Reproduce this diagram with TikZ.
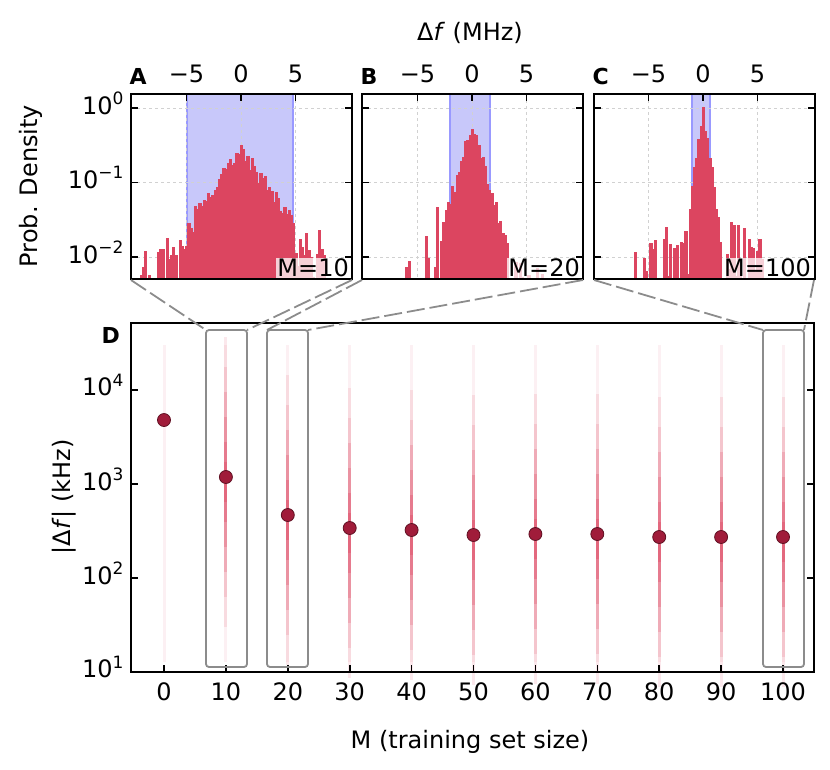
\documentclass[tikz,border=0pt]{standalone}
\usepackage{fontspec}
\setmainfont{DejaVu Sans}
\usetikzlibrary{calc}
\definecolor{barred}{HTML}{DC4560}
\definecolor{dotred}{HTML}{A01C3A}
\definecolor{bandblue}{HTML}{C8C8FA}
\tikzset{
  frame/.style={draw=black, line width=1.6pt},
  bar/.style={fill=barred, draw=barred, line width=0.2pt},
  band/.style={fill=bandblue, draw=blue!40, line width=1.2pt},
  grid/.style={draw=black!18, dashed, line width=0.8pt},
  zoombox/.style={draw=black!45, line width=1.8pt, rounded corners=3pt},
  zoomline/.style={draw=black!45, line width=1.8pt, dash pattern=on 18pt off 5pt},
  tick/.style={line width=1.6pt},
  lab/.style={font=\fontsize{24}{28}\selectfont},
  letter/.style={font=\fontsize{22}{26}\selectfont\bfseries},
  meandot/.style={circle, fill=dotred, draw=dotred!60!black, line width=0.8pt, minimum size=13pt, inner sep=0pt},
  mlabel/.style={font=\fontsize{24}{28}\selectfont, fill=white, fill opacity=0.75, text opacity=1, inner sep=1pt, anchor=south east},
}
\newcommand\lgt[1]{10\raisebox{0.75ex}{\fontsize{17}{18}\selectfont #1}}
% histogram bars: origin x, peak log, slope, list, noise
\newcommand\hbars[5]{%
  \foreach \u in {#4}{%
    \pgfmathsetmacro\lp{#2-#3*abs(\u)+#5*rand}
    \pgfmathsetmacro\yy{max(96,108-74.5*\lp)}
    \pgfmathparse{\yy<279?1:0}
    \ifnum\pgfmathresult=1 \fill[bar] (#1+10.9*\u-1.1,279) rectangle (#1+10.9*\u+1.1,\yy);\fi}}
\begin{document}
\begin{tikzpicture}[x=1pt,y=-1pt]
  \useasboundingbox (0,0) rectangle (830,769);
  \pgfmathsetseed{11}
  % top panels
  \foreach \px/\zx/\bl/\br/\nm in {131/241/187/293/A,362/472/450/490/B,594/703/692/710/C}{
    \begin{scope}
      \clip (\px,94) rectangle (\px+221,279);
      \fill[band] (\bl,92) rectangle (\br,281);
      \foreach \v in {-5,0,5} \draw[grid] (\zx+10.9*\v,94) -- (\zx+10.9*\v,279);
      \foreach \w in {0,1,2} \draw[grid] (\px,108+74.5*\w) -- (\px+221,108+74.5*\w);
    \end{scope}
    \node[letter, anchor=south west] (let\nm) at (\px-5,88) {\nm};
    \node[lab, anchor=south] (tm\nm) at (\zx-54.5,86) {−5};
    \node[lab, anchor=south] (tz\nm) at (\zx,86) {0};
    \node[lab, anchor=south] (tp\nm) at (\zx+54.5,86) {5};
    \foreach \v in {-5,0,5} \draw[tick] (\zx+10.9*\v,94) -- ++(0,7);
    \foreach \w in {0,1,2}{
      \draw[tick] (\px,108+74.5*\w) -- ++(7,0);
      \draw[tick] (\px+221,108+74.5*\w) -- ++(-7,0);}
  }
  \begin{scope}
    \clip (131,94) rectangle (352,279);
    \hbars{241}{-0.6}{0.19}{-4.2,-4.0,...,4.6}{0.12}
    \hbars{241}{-1.5}{0.1}{-9.4,-9.2,...,-4.4}{0.5}
    \hbars{241}{-1.3}{0.1}{4.8,5.0,...,7.6}{0.45}
  \end{scope}
  \begin{scope}
    \clip (362,94) rectangle (583,279);
    \hbars{472}{-0.2}{0.52}{-2.6,-2.4,...,3.4}{0.1}
    \hbars{472}{-1.3}{0.25}{-6.4,-6.2,...,-2.8}{0.8}
    \hbars{472}{-1.3}{0.25}{3.6,3.8,...,6.8}{0.8}
  \end{scope}
  \begin{scope}
    \clip (594,94) rectangle (814,279);
    \hbars{703}{0.0}{1.1}{-1.2,-1.0,...,1.6}{0.1}
    \hbars{703}{-1.8}{0.1}{-6.4,-6.2,...,-1.4}{0.6}
    \hbars{703}{-1.8}{0.1}{1.8,2.0,...,6.0}{0.6}
  \end{scope}
  \node[mlabel] (mA) at (350,278) {M=10};
  \node[mlabel] (mB) at (581,278) {M=20};
  \node[mlabel] (mC) at (812,278) {M=100};
  \foreach \px in {131,362,594} \draw[frame] (\px,94) rectangle (\px+221,279);
  \node[lab, anchor=east] (yA0) at (127,103) {\lgt{0}};
  \node[lab, anchor=east] (yA1) at (127,177.5) {\lgt{−1}};
  \node[lab, anchor=east] (yA2) at (127,252) {\lgt{−2}};
  \node[lab] (dfA) at (470,33) {Δ\textit{f} (MHz)};
  \node[lab, rotate=90] (pd) at (31,186) {Prob. Density};

  % bottom panel
  \foreach \m in {0,10,...,100}{
    \pgfmathsetmacro\xx{164+6.19*\m}
    \fill[barred, opacity=0.08] (\xx-1.5,345) rectangle (\xx+1.5,662);
  }
  \foreach \m/\my in {10/477,20/515,30/528,40/530,50/535,60/534,70/534,80/537,90/537,100/537}{
    \pgfmathsetmacro\xx{164+6.19*\m}
    \foreach \h/\o in {150/0.12,120/0.15,95/0.2,70/0.25,45/0.3,25/0.35}
      \fill[barred, opacity=\o] (\xx-1.5,\my-\h+10) rectangle (\xx+1.5,\my+\h);
  }
  \foreach \m/\my in {0/420,10/477,20/515,30/528,40/530,50/535,60/534,70/534,80/537,90/537,100/537}
    \node[meandot] (d\m) at (164+6.19*\m,\my) {};
  \node[letter, anchor=north west] (letD) at (98,324) {D};
  \draw[frame] (131,323) rectangle (814,672);
  \foreach \m in {0,10,...,100}{
    \draw[tick] (164+6.19*\m,672) -- ++(0,-7);
    \node[lab, anchor=north] at (164+6.19*\m,679) {\m};}
  \foreach \e/\yy in {1/672,2/578,3/484,4/390}{
    \draw[tick] (131,\yy) -- ++(7,0);
    \draw[tick] (814,\yy) -- ++(-7,0);
    \node[lab, anchor=east] at (127,\yy-5) {\lgt{\e}};}
  \node[lab] (xl) at (470,742) {M (training set size)};
  \node[lab, rotate=90] (yl) at (64,497) {|Δ\textit{f}| (kHz)};

  % zoom boxes
  \draw[zoombox] (206,330) rectangle (247,667);
  \draw[zoombox] (267,330) rectangle (308,667);
  \draw[zoombox] (763,330) rectangle (804,667);
  \coordinate (zA1) at (206,330); \coordinate (zA2) at (247,330);
  \coordinate (zB1) at (267,330); \coordinate (zB2) at (308,330);
  \coordinate (zC1) at (763,330); \coordinate (zC2) at (804,330);
  \draw[zoomline] (131,280) -- (zA1);
  \draw[zoomline] (352,280) -- (zA2);
  \draw[zoomline] (362,280) -- (zB1);
  \draw[zoomline] (583,280) -- (zB2);
  \draw[zoomline] (594,280) -- (zC1);
  \draw[zoomline] (814,280) -- (zC2);
\end{tikzpicture}
\end{document}
